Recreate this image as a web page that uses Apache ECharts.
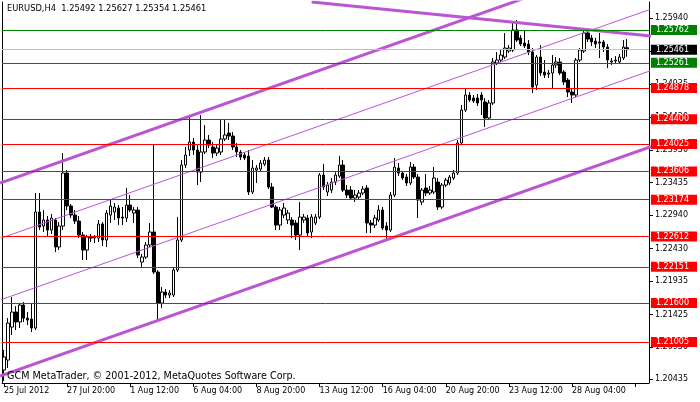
<!DOCTYPE html>
<html><head><meta charset="utf-8">
<script src="https://cdn.jsdelivr.net/npm/echarts@6/dist/echarts.min.js"></script>
<style>html,body{margin:0;padding:0;background:#fff}#c{width:700px;height:402px}</style>
</head><body><div id="c"></div>
<script>
const symbolName = 'EURUSD,H4';
const copyright = 'GCM MetaTrader, © 2001-2012, MetaQuotes Software Corp.';
const xTickLabels = ['25 Jul 2012','27 Jul 20:00','1 Aug 12:00','6 Aug 04:00','8 Aug 20:00','13 Aug 12:00','16 Aug 04:00','20 Aug 20:00','23 Aug 12:00','28 Aug 04:00'];
const barsPerLabel = 16;
const emptyBarsRight = 5;

const open = [1.20578,1.20730,1.21233,1.21462,1.21310,1.21569,1.21370,1.21355,1.21218,1.22987,
1.22773,1.22865,1.22712,1.22865,1.22453,1.22773,1.23581,1.23078,1.22941,1.22849,
1.22636,1.22407,1.22606,1.22590,1.22590,1.22804,1.22560,1.22941,1.22987,1.23048,
1.22910,1.22895,1.23093,1.22971,1.23017,1.22224,1.22300,1.22484,1.22682,1.22072,
1.21599,1.21767,1.21721,1.21721,1.22102,1.22560,1.23703,1.23932,1.24054,1.23932,
1.23596,1.23902,1.24084,1.23978,1.23886,1.23902,1.24100,1.24191,1.24145,1.23978,
1.23902,1.23856,1.23840,1.23292,1.23627,1.23642,1.23718,1.23779,1.23368,1.23063,
1.22788,1.22941,1.22865,1.22865,1.22819,1.22636,1.22865,1.22895,1.22682,1.22819,
1.22910,1.23551,1.23292,1.23322,1.23444,1.23535,1.23703,1.23322,1.23322,1.23200,
1.23215,1.23276,1.23353,1.22819,1.22788,1.22865,1.23017,1.22773,1.22712,1.23246,
1.23657,1.23581,1.23520,1.23429,1.23673,1.23520,1.23139,1.23353,1.23276,1.23292,
1.23444,1.23063,1.23398,1.23429,1.23505,1.23581,1.24039,1.24542,1.24771,1.24725,
1.24725,1.24771,1.24664,1.24420,1.24649,1.25258,1.25304,1.25350,1.25441,1.25457,
1.25762,1.25640,1.25563,1.25548,1.25426,1.24923,1.25350,1.25121,1.25091,1.25106,
1.25228,1.25274,1.25121,1.24999,1.24816,1.24771,1.25304,1.25441,1.25716,1.25640,
1.25594,1.25579,1.25579,1.25502,1.25274,1.25289,1.25274,1.25335,1.25492];

const high = [1.20883,1.21370,1.21691,1.21553,1.21599,1.21614,1.21462,1.21599,1.23276,1.23276,
1.23017,1.22926,1.22956,1.22895,1.22834,1.23886,1.23627,1.23109,1.23017,1.22926,
1.22682,1.22636,1.22651,1.22636,1.22865,1.22834,1.23017,1.23170,1.23124,1.23093,
1.23063,1.23353,1.23246,1.23063,1.23063,1.22346,1.22529,1.22819,1.24008,1.22102,
1.21843,1.21813,1.21797,1.22133,1.22910,1.23779,1.23978,1.24435,1.24115,1.24008,
1.24465,1.24313,1.24161,1.24054,1.24008,1.24389,1.24389,1.24344,1.24206,1.24039,
1.23932,1.23902,1.23932,1.23779,1.23703,1.23779,1.23825,1.23825,1.23429,1.23093,
1.23063,1.23124,1.23017,1.22910,1.22865,1.23139,1.22956,1.22941,1.22956,1.22956,
1.23581,1.23718,1.23444,1.23505,1.23596,1.23840,1.23779,1.23398,1.23383,1.23322,
1.23322,1.23383,1.23398,1.22865,1.22941,1.23093,1.23063,1.22834,1.23292,1.23810,
1.23734,1.23612,1.23566,1.23749,1.23718,1.23566,1.23353,1.23566,1.23383,1.23673,
1.23505,1.23429,1.23505,1.23551,1.23627,1.24084,1.24618,1.24877,1.24816,1.24771,
1.24786,1.24816,1.24725,1.24694,1.25335,1.25426,1.25457,1.25716,1.25533,1.25884,
1.25914,1.25685,1.25762,1.25609,1.25487,1.25380,1.25533,1.25304,1.25152,1.25380,
1.25350,1.25335,1.25152,1.25030,1.24877,1.25335,1.25487,1.25762,1.25762,1.25685,
1.25640,1.25716,1.25609,1.25548,1.25335,1.25365,1.25396,1.25609,1.25627];

const low = [1.20410,1.20608,1.21111,1.21188,1.21218,1.21310,1.21264,1.21157,1.21188,1.22712,
1.22682,1.22621,1.22651,1.22377,1.22407,1.22712,1.23017,1.22895,1.22804,1.22590,
1.22255,1.22255,1.22529,1.22514,1.22529,1.22468,1.22453,1.22819,1.22865,1.22788,
1.22788,1.22834,1.22987,1.22819,1.22285,1.22148,1.22270,1.22453,1.22042,1.21310,
1.21523,1.21675,1.21675,1.21691,1.22072,1.22529,1.23657,1.23840,1.23856,1.23398,
1.23444,1.23871,1.23962,1.23810,1.23840,1.23856,1.24069,1.24084,1.23932,1.23825,
1.23779,1.23779,1.23246,1.23261,1.23429,1.23596,1.23688,1.23337,1.23048,1.22712,
1.22712,1.22895,1.22804,1.22590,1.22560,1.22407,1.22819,1.22621,1.22590,1.22788,
1.22880,1.23322,1.23231,1.23276,1.23398,1.23505,1.23292,1.23200,1.23170,1.23139,
1.23170,1.23246,1.22666,1.22666,1.22743,1.22834,1.22712,1.22560,1.22682,1.23215,
1.23535,1.23474,1.23383,1.23398,1.23490,1.22895,1.23093,1.23231,1.23246,1.23261,
1.23017,1.23032,1.23368,1.23398,1.23474,1.23551,1.24008,1.24511,1.24664,1.24649,
1.24603,1.24465,1.24283,1.24389,1.24618,1.25228,1.25274,1.25319,1.25411,1.25426,
1.25579,1.25518,1.25487,1.25380,1.24801,1.24847,1.25060,1.25030,1.25030,1.24877,
1.25182,1.25075,1.24923,1.24740,1.24649,1.24740,1.25274,1.25411,1.25579,1.25518,
1.25487,1.25335,1.25426,1.25182,1.25228,1.25243,1.25243,1.25304,1.25354];

const close = [1.20776,1.21294,1.21462,1.21310,1.21569,1.21370,1.21340,1.21218,1.22987,1.22758,
1.22865,1.22712,1.22895,1.22453,1.22773,1.23581,1.23078,1.22941,1.22849,1.22636,
1.22407,1.22606,1.22590,1.22606,1.22804,1.22560,1.22971,1.23078,1.23063,1.22895,
1.22895,1.23093,1.23017,1.23017,1.22331,1.22300,1.22484,1.22682,1.22072,1.21599,
1.21767,1.21721,1.21752,1.22102,1.22560,1.23703,1.23856,1.24054,1.23932,1.23596,
1.23902,1.24084,1.24008,1.23886,1.23962,1.24100,1.24161,1.24145,1.23978,1.23902,
1.23825,1.23810,1.23292,1.23657,1.23657,1.23734,1.23779,1.23368,1.23063,1.22788,
1.23017,1.23048,1.22971,1.22788,1.22636,1.22910,1.22910,1.22666,1.22910,1.22910,
1.23551,1.23368,1.23398,1.23444,1.23551,1.23703,1.23322,1.23246,1.23200,1.23246,
1.23276,1.23337,1.22819,1.22788,1.22895,1.23017,1.22743,1.22712,1.23246,1.23673,
1.23581,1.23505,1.23429,1.23673,1.23520,1.23170,1.23322,1.23276,1.23322,1.23505,
1.23063,1.23398,1.23474,1.23520,1.23581,1.24039,1.24542,1.24771,1.24694,1.24679,
1.24649,1.24694,1.24420,1.24649,1.25274,1.25304,1.25380,1.25487,1.25487,1.25762,
1.25609,1.25548,1.25518,1.25426,1.24892,1.25350,1.25106,1.25075,1.25106,1.25228,
1.25274,1.25106,1.24969,1.24816,1.24771,1.25304,1.25457,1.25716,1.25624,1.25579,
1.25548,1.25563,1.25502,1.25304,1.25289,1.25304,1.25350,1.25502,1.25461];

const yTickValues = [1.25940,1.25435,1.24935,1.24430,1.23930,1.23435,1.22940,1.22430,1.21935,1.21425,1.20930,1.20435];
const greenLevels = [1.25762,1.25261];
const bidLevel = 1.25461;
const redLevels = [1.24878,1.24400,1.24025,1.23606,1.23174,1.22612,1.22151,1.21600,1.21005];
// trend / channel lines: endpoints [bar index, price]
const channelThick = [[[-1,1.23429],[164,1.26927]], [[-1,1.20486],[164,1.23984]]];
const channelThin = [[[-1,1.22583],[164,1.26080]], [[-1,1.21645],[164,1.25143]]];
const resistanceLine = [[78,1.26189],[164,1.25669]];
const yMin = 1.20380, yMax = 1.26189;

const FONT = 'DejaVu Sans';
const PURPLE = '#BA55D3';
const N = open.length + emptyBarsRight;
const categories = Array.from({length: N}, (_, i) => String(i));
const candleData = open.map((o, i) => [o, close[i], low[i], high[i]]);
const last = open.length - 1;
const titleText = symbolName + '  ' + [open[last], high[last], low[last], close[last]].map(v => v.toFixed(5)).join(' ');

const boxLevels = greenLevels.concat([bidLevel], redLevels);
function levelClass(v) {
  const near = (a) => a.some(x => Math.abs(x - v) < 1e-6);
  if (near(greenLevels)) return 'g';
  if (Math.abs(v - bidLevel) < 1e-6) return 'k';
  return 'r';
}
const boxStyle = (bg) => ({backgroundColor: bg, color: '#fff', fontFamily: FONT, fontSize: 8, padding: [1, 8, 1, 5], lineHeight: 10});

const hLines = [];
greenLevels.forEach(v => hLines.push({yAxis: v, lineStyle: {color: '#008000', width: 1, type: 'solid'}}));
hLines.push({yAxis: bidLevel, lineStyle: {color: '#C0C0C0', width: 1, type: 'solid'}});
redLevels.forEach(v => hLines.push({yAxis: v, lineStyle: {color: '#FF0000', width: 1, type: 'solid'}}));

function trendSeries(pts, w) {
  return {type: 'line', xAxisIndex: 1, yAxisIndex: 0, data: pts, symbol: 'none', clip: true, silent: true,
    lineStyle: {color: PURPLE, width: w}, z: 4, animation: false};
}

const chart = echarts.init(document.getElementById('c'), null, {renderer: 'canvas'});
chart.setOption({
  animation: false,
  backgroundColor: '#fff',
  title: [
    {text: titleText, left: 7, top: 5, padding: 0, textStyle: {fontFamily: FONT, fontSize: 8.3, fontWeight: 'normal', color: '#000'}},
    {text: copyright, left: 7, top: 371, padding: 0, textStyle: {fontFamily: FONT, fontSize: 9.6, fontWeight: 'normal', color: '#000'}, z: 10}
  ],
  grid: {left: 2, right: 42, top: 2, bottom: 19, show: false},
  xAxis: [
    {type: 'category', data: categories, boundaryGap: true,
     axisLine: {show: true, lineStyle: {color: '#000', width: 1}},
     axisTick: {show: true, interval: barsPerLabel - 1, alignWithLabel: true, length: 4, lineStyle: {color: '#000'}},
     axisLabel: {interval: barsPerLabel - 1, align: 'left', margin: 4, color: '#000', fontFamily: FONT, fontSize: 8,
       formatter: (v, idx) => (idx % barsPerLabel === 0 ? (xTickLabels[idx / barsPerLabel] || '') : '')},
     splitLine: {show: false}},
    {type: 'value', min: -0.5, max: N - 0.5, show: false}
  ],
  yAxis: [
    {type: 'value', position: 'right', min: yMin, max: yMax, scale: true,
     axisLine: {show: true, onZero: false, lineStyle: {color: '#000', width: 1}},
     axisTick: {show: true, length: 4, customValues: yTickValues, lineStyle: {color: '#000'}},
     axisLabel: {customValues: yTickValues, margin: 6, color: '#000', fontFamily: FONT, fontSize: 8,
       formatter: v => Number(v).toFixed(5)},
     splitLine: {show: false}},
    {type: 'value', position: 'right', min: yMin, max: yMax, scale: true, z: 10,
     axisLine: {show: false}, axisTick: {show: false}, splitLine: {show: false},
     axisLabel: {customValues: boxLevels, margin: 2, align: 'left',
       formatter: v => '{' + levelClass(v) + '|' + Number(v).toFixed(5) + '}',
       rich: {r: boxStyle('#FF0000'), g: boxStyle('#008000'), k: boxStyle('#000000')}}},
    {type: 'value', position: 'left', min: yMin, max: yMax, scale: true,
     axisLine: {show: true, onZero: false, lineStyle: {color: '#000', width: 1}},
     axisTick: {show: false}, axisLabel: {show: false}, splitLine: {show: false}}
  ],
  series: [
    {type: 'candlestick', xAxisIndex: 0, yAxisIndex: 0, data: candleData, barWidth: 3, z: 3,
     itemStyle: {color: '#ffffff', color0: '#000000', borderColor: '#000000', borderColor0: '#000000', borderWidth: 1},
     markLine: {silent: true, precision: 5, symbol: ['none', 'none'], label: {show: false}, animation: false, data: hLines}},
    ...channelThick.map(p => trendSeries(p, 3)),
    ...channelThin.map(p => trendSeries(p, 1)),
    trendSeries(resistanceLine, 3)
  ]
});
</script></body></html>
